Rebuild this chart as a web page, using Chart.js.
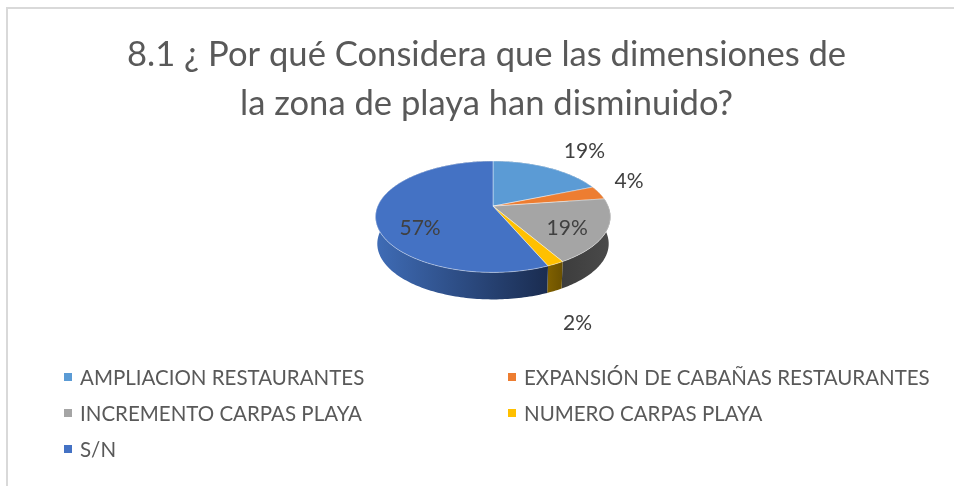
<!DOCTYPE html>
<html>
<head>
<meta charset="utf-8">
<script src="https://cdn.jsdelivr.net/npm/chart.js@4/dist/chart.umd.min.js"></script>
<style>
    html, body { margin: 0; background: #fff; overflow: hidden; }
    #page { position: relative; width: 954px; height: 486px; overflow: hidden; }
    #frame { position: absolute; left: 6px; top: 7px; width: 960px; height: 490px; border: 2px solid #d9d9d9; }
    #wrap { position: absolute; left: 0; top: 0; width: 973px; height: 486px; }
    .item { position: absolute; font: 20.5px Lato, sans-serif; color: #595959; white-space: nowrap; transform: translateY(-50%); }
    .mark { position: absolute; width: 8px; height: 8px; transform: translateY(-50%); }
</style>
</head>
<body>
<div id="page">
    <div id="frame"></div>
    <div id="wrap"><canvas id="pieChart" width="973" height="486"></canvas></div>
    <div id="legend"></div>
</div>
<script>
const titleLines = ['8.1 ¿ Por qué Considera que las dimensiones de', 'la zona de playa han disminuido?'];
const categories = ['AMPLIACION RESTAURANTES', 'EXPANSIÓN DE CABAÑAS RESTAURANTES', 'INCREMENTO CARPAS PLAYA', 'NUMERO CARPAS PLAYA', 'S/N'];
const percents = [19, 4, 19, 2, 57];
const colors = ['#5B9BD5', '#ED7D31', '#A5A5A5', '#FFC000', '#4472C4'];
const wallColors = [['#2f5d88', '#2f5d88'], ['#8a4a1c', '#8a4a1c'], ['#3d3d3d', '#4a4a4a'], ['#7f6000', '#6b5100'], ['#3f6cb6', '#1a2c50']];

// label position relative to the middle of each slice's outer edge
const labelOffsets = [[36, -16], [30, -12], [-39, -3], [22, 59], [44.5, 11]];
const legendSpots = [[64, 80, 377], [508, 524, 377], [64, 80, 413], [508, 524, 413], [64, 80, 449]];

// perspective of the tilted disc
const tilt = 0.465;
const bend = 0.191;
const depth = 27;
// the title is centred on the frame, the pie sits a little to the right of it
const pieShift = 6.5;

function project(arc, angle) {
    // chart.js angles start at -PI/2 (top), going clockwise
    let u = Math.cos(angle);
    let v = -Math.sin(angle);
    let den = 1 + bend * v;
    return {
        x: arc.x + arc.outerRadius * u / den,
        y: arc.y - arc.outerRadius * tilt * v / den
    };
}

function rimPoints(arc) {
    let pts = [];
    let steps = Math.max(2, Math.ceil((arc.endAngle - arc.startAngle) / 0.02));
    for (let i = 0; i <= steps; i++) {
        pts.push(project(arc, arc.startAngle + (arc.endAngle - arc.startAngle) * i / steps));
    }
    return pts;
}

const tiltedPie = {
    id: 'tiltedPie',
    beforeDatasetsDraw(chart) {
        let ctx = chart.ctx;
        let arcs = chart.getDatasetMeta(0).data;
        ctx.save();
        ctx.translate(pieShift, 0);

        // side walls first, the top face covers the hidden parts
        arcs.forEach(function (arc, i) {
            let pts = rimPoints(arc);
            let xs = pts.map(p => p.x);
            let grad = ctx.createLinearGradient(Math.min(...xs), 0, Math.max(...xs), 0);
            grad.addColorStop(0, wallColors[i][0]);
            grad.addColorStop(1, wallColors[i][1]);
            ctx.beginPath();
            pts.forEach((p, n) => n ? ctx.lineTo(p.x, p.y) : ctx.moveTo(p.x, p.y));
            pts.slice().reverse().forEach(function (p) {
                ctx.lineTo(arc.x + (p.x - arc.x) * 0.985, p.y + depth);
            });
            ctx.closePath();
            ctx.fillStyle = grad;
            ctx.fill();
        });

        arcs.forEach(function (arc, i) {
            ctx.beginPath();
            ctx.moveTo(arc.x, arc.y);
            rimPoints(arc).forEach(p => ctx.lineTo(p.x, p.y));
            ctx.closePath();
            ctx.fillStyle = colors[i];
            ctx.fill();
            ctx.strokeStyle = 'rgba(255,255,255,0.55)';
            ctx.lineWidth = 0.75;
            ctx.stroke();
        });

        ctx.font = '21px Lato, sans-serif';
        ctx.fillStyle = '#404040';
        ctx.textAlign = 'center';
        ctx.textBaseline = 'middle';
        arcs.forEach(function (arc, i) {
            let mid = project(arc, (arc.startAngle + arc.endAngle) / 2);
            ctx.fillText(percents[i] + '%', mid.x + labelOffsets[i][0], mid.y + labelOffsets[i][1]);
        });
        ctx.restore();
        return false;
    }
};

new Chart(document.getElementById('pieChart'), {
    type: 'pie',
    data: {
        labels: categories,
        datasets: [{ data: percents, backgroundColor: colors, radius: 115.3 }]
    },
    plugins: [tiltedPie],
    options: {
        responsive: false,
        animation: false,
        layout: { padding: { left: 0, right: 0, top: 0, bottom: 202 } },
        plugins: {
            legend: { display: false },
            tooltip: { enabled: false },
            title: {
                display: true,
                text: titleLines,
                color: '#595959',
                font: { family: 'Lato, sans-serif', size: 34.6, weight: 'normal', lineHeight: 1.42 },
                padding: { top: 30, bottom: 0 }
            }
        }
    }
});

let legendBox = document.getElementById('legend');
categories.forEach(function (name, i) {
    let mark = document.createElement('div');
    mark.className = 'mark';
    mark.style.cssText = 'left:' + legendSpots[i][0] + 'px;top:' + legendSpots[i][2] + 'px;background:' + colors[i];
    legendBox.appendChild(mark);
    let item = document.createElement('div');
    item.className = 'item';
    item.style.cssText = 'left:' + legendSpots[i][1] + 'px;top:' + legendSpots[i][2] + 'px';
    item.textContent = name;
    legendBox.appendChild(item);
});
</script>
</body>
</html>
